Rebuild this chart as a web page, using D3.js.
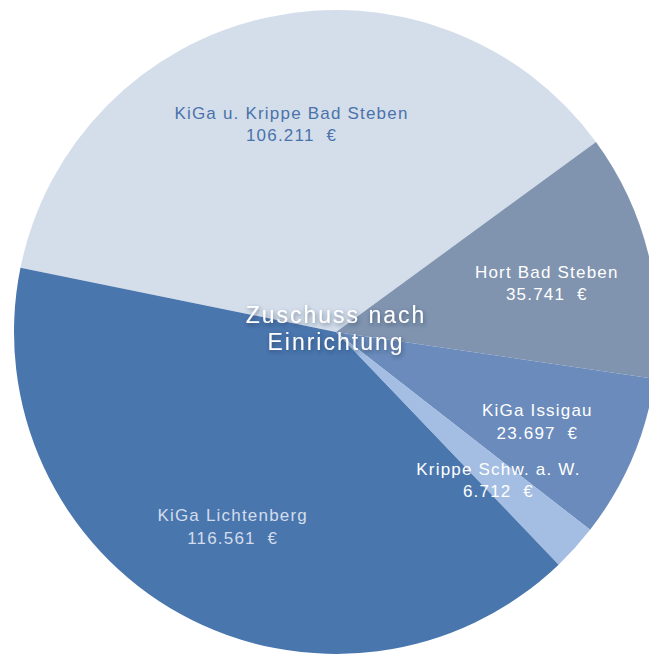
<!DOCTYPE html>
<html>
<head>
<meta charset="utf-8">
<script src="https://cdn.jsdelivr.net/npm/d3@7"></script>
<style>
  body { margin: 0; background: #fff; }
  svg { display: block; font-family: "Liberation Sans", Arial, sans-serif; }
</style>
</head>
<body>
<svg width="649" height="654"></svg>
<script>
let names = ['KiGa u. Krippe Bad Steben', 'Hort Bad Steben', 'KiGa Issigau', 'Krippe Schw. a. W.', 'KiGa Lichtenberg']
let values = [106211, 35741, 23697, 6712, 116561]
let valueLabels = ['106.211', '35.741', '23.697', '6.712', '116.561']
let colors = ['#d4deeb', '#8094b0', '#6a8bbb', '#a3bde3', '#4a76ae']
let labelColors = ['#4a72aa', '#ffffff', '#ffffff', '#ffffff', '#d3ddeb']
let title = ['Zuschuss nach', 'Einrichtung']

let width = 649
let height = 654
let cx = 336
let cy = 332
let radius = 322

let data = names.map((n, i) => ({ name: n, value: values[i], label: valueLabels[i], color: colors[i], labelColor: labelColors[i] }))

let pie = d3.pie()
  .sort(null)
  .value(d => d.value)
  .startAngle(-78.5 * Math.PI / 180)
  .endAngle(281.5 * Math.PI / 180)

let arc = d3.arc().innerRadius(0).outerRadius(radius)

let svg = d3.select('svg')

let defs = svg.append('defs')
let shadow = defs.append('filter').attr('id', 'shadow')
  .attr('x', '-20%').attr('y', '-40%').attr('width', '140%').attr('height', '180%')
shadow.append('feDropShadow')
  .attr('dx', 1).attr('dy', 2).attr('stdDeviation', 2)
  .attr('flood-color', '#1d2f4a').attr('flood-opacity', 0.55)

let g = svg.append('g')
  .attr('transform', 'translate(' + [cx, cy] + ')')

g.selectAll('path')
  .data(pie(data))
  .enter()
  .append('path')
  .attr('d', arc)
  .attr('fill', d => d.data.color)
  .attr('stroke', 'none')

// label positions (radius fraction of each slice centroid, plus a nudge)
let labelRadius = [0.72, 0.7, 0.68, 0.55, 0.6]
let labelShift = [[5, 17], [-8, 4], [0, 2], [31, 28], [-10, 24]]

let labels = g.selectAll('.label')
  .data(pie(data))
  .enter()
  .append('text')
  .attr('class', 'label')
  .attr('text-anchor', 'middle')
  .attr('font-size', 17)
  .attr('letter-spacing', 1.2)
  .attr('fill', d => d.data.labelColor)
  .attr('transform', (d, i) => {
    let a = (d.startAngle + d.endAngle) / 2
    let r = radius * labelRadius[i]
    return 'translate(' + [Math.sin(a) * r + labelShift[i][0], -Math.cos(a) * r + labelShift[i][1]] + ')'
  })

labels.append('tspan')
  .attr('x', 0)
  .attr('y', -4)
  .text(d => d.data.name)

labels.append('tspan')
  .attr('x', 0)
  .attr('y', 18.5)
  .style('white-space', 'pre')
  .text(d => d.data.label + '\u00a0 €')

let titleText = svg.append('text')
  .attr('text-anchor', 'middle')
  .attr('font-size', 23)
  .attr('letter-spacing', 2)
  .attr('fill', '#ffffff')
  .attr('filter', 'url(#shadow)')

titleText.selectAll('tspan')
  .data(title)
  .enter()
  .append('tspan')
  .attr('x', cx)
  .attr('y', (d, i) => 323 + i * 27)
  .text(d => d)
</script>
</body>
</html>
